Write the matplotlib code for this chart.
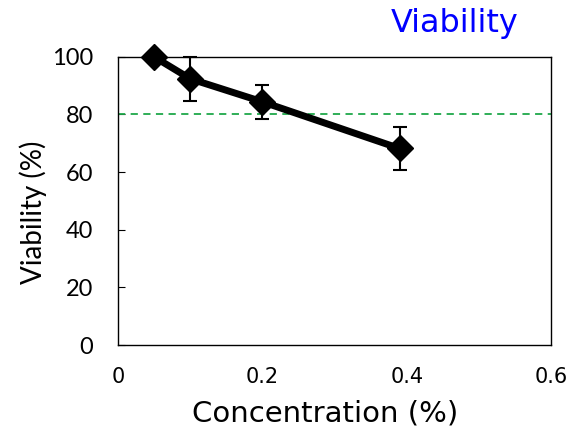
import matplotlib
matplotlib.use('Agg')
import matplotlib.pyplot as plt

# data
concentration = [0.05, 0.1, 0.2, 0.39]
viability = [100, 92.4, 84.4, 68.2]
viability_err = [0, 7.6, 5.8, 7.3]
threshold = 80

plt.rcParams['font.family'] = ['DejaVu Sans']

fig = plt.figure(figsize=(5.7, 4.34), dpi=100)
ax = fig.add_axes([0.207, 0.205, 0.76, 0.664])

ax.axhline(threshold, color='#1fa84a', linestyle='--', linewidth=1.3, dashes=(4, 3))
ax.errorbar(concentration, viability, yerr=viability_err, color='black',
            linewidth=5, marker='D', markersize=13, ecolor='black',
            elinewidth=1.5, capsize=5, capthick=1.5, zorder=3, clip_on=False)

ax.set_xlim(0, 0.6)
ax.set_ylim(0, 100)
ax.set_xticks([0, 0.2, 0.4, 0.6])
ax.set_xticklabels(['0', '0.2', '0.4', '0.6'])
ax.set_yticks([0, 20, 40, 60, 80, 100])
ax.tick_params(axis='y', direction='in', length=5, pad=18)
ax.tick_params(axis='x', length=0, labelsize=15, pad=16)
for lbl in ax.get_yticklabels():
    lbl.set_family('Lato')
    lbl.set_fontsize(17)

ax.set_xlabel('Concentration (%)', fontsize=21)
ax.set_ylabel('Viability (%)', fontsize=20, family='Lato')
ax.xaxis.set_label_coords(0.478, -0.19)
ax.yaxis.set_label_coords(-0.164, 0.46)
for s in ax.spines.values():
    s.set_linewidth(1.0)

fig.text(0.798, 0.945, 'Viability', color='#0000ff', fontsize=23, ha='center', va='center')

fig.savefig('out.png', dpi=100)
